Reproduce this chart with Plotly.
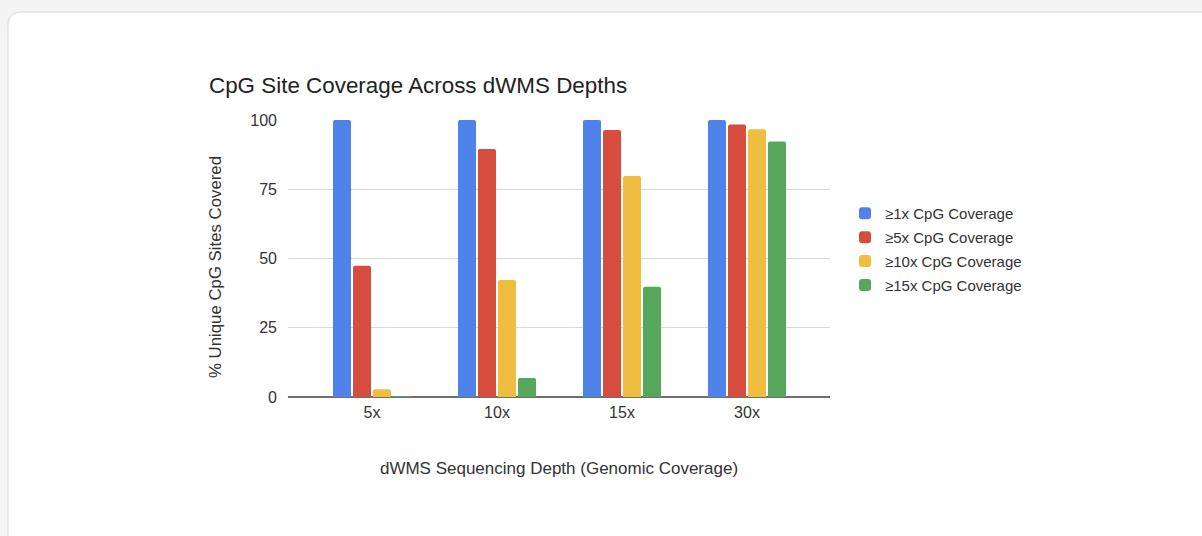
import plotly.graph_objects as go

categories = ["5x", "10x", "15x", "30x"]
series_names = ["≥1x CpG Coverage", "≥5x CpG Coverage", "≥10x CpG Coverage", "≥15x CpG Coverage"]
cov_1x = [100, 100, 100, 100]
cov_5x = [47.4, 89.5, 96.4, 98.4]
cov_10x = [2.8, 42.2, 79.8, 96.7]
cov_15x = [0.3, 6.9, 39.8, 92.2]
series_values = [cov_1x, cov_5x, cov_10x, cov_15x]
colors = ["#4f83e9", "#d74d3d", "#efbd3f", "#56a75b"]
y_ticks = [0, 25, 50, 75, 100]

W, H = 1202, 536
L, R, T, B = 288, 830, 120, 397
pw, ph = R - L, B - T

def px(x):
    return (x - L) / pw

def py(y):
    return (B - y) / ph

FONT = "Liberation Sans, Arial, sans-serif"

fig = go.Figure()
for i, (name, vals, col) in enumerate(zip(series_names, series_values, colors)):
    fig.add_trace(go.Bar(
        x=categories, y=vals, name=name, legendgroup=f"g{i}",
        marker=dict(color=col, line=dict(width=0), cornerradius=2),
        hoverinfo="x+y+name",
    ))

# card with rounded corners
x0, x1, y0, y1 = px(8), px(1215), py(12), py(560)
rx, ry = 14 / pw, 14 / ph
path = (f"M {x0+rx},{y0} L {x1-rx},{y0} Q {x1},{y0} {x1},{y0-ry} "
        f"L {x1},{y1+ry} Q {x1},{y1} {x1-rx},{y1} L {x0+rx},{y1} Q {x0},{y1} {x0},{y1+ry} "
        f"L {x0},{y0-ry} Q {x0},{y0} {x0+rx},{y0} Z")

fig.update_layout(
    width=W, height=H,
    margin=dict(l=L, r=W - R, t=T, b=H - B, pad=0),
    paper_bgcolor="#f4f4f4",
    plot_bgcolor="white",
    barmode="group",
    bargap=0.36,
    bargroupgap=0.1,
    font=dict(family=FONT, size=16, color="#333333"),
    title=dict(text="CpG Site Coverage Across dWMS Depths",
               x=209 / W, xref="container", xanchor="left",
               y=1 - 85 / H, yref="container", yanchor="middle",
               font=dict(size=22.4, color="#222222")),
    shapes=[dict(type="path", path=path, xref="paper", yref="paper",
                 fillcolor="white", line=dict(color="#e3e3e3", width=1.5), layer="below")],
    annotations=[dict(text="% Unique CpG Sites Covered", textangle=-90,
                      xref="paper", yref="paper", x=px(215), y=py(267),
                      xanchor="center", yanchor="middle", showarrow=False,
                      font=dict(size=16.8, color="#333333"))],
    legend=dict(x=px(845), y=py(197), xanchor="left", yanchor="top",
                font=dict(size=15, color="#333333"), bgcolor="rgba(0,0,0,0)",
                tracegroupgap=1.4, itemwidth=30),
    xaxis=dict(
        range=[-0.672, 3.664],
        showgrid=False, zeroline=False,
        showline=False, ticks="",
        ticklabelstandoff=4,
        tickfont=dict(size=16, color="#333333"),
        title=dict(text="dWMS Sequencing Depth (Genomic Coverage)", standoff=42,
                   font=dict(size=17, color="#333333")),
    ),
    yaxis=dict(
        range=[0, 100],
        tickvals=y_ticks,
        showgrid=True, gridcolor="#d9d9d9", gridwidth=1,
        zeroline=True, zerolinecolor="#6f6f6f", zerolinewidth=1.5,
        showline=False, ticks="",
        ticklabelstandoff=10,
        tickfont=dict(size=16, color="#333333"),
    ),
)

fig.write_html("out.html", config={"displayModeBar": False},
               post_script="document.body.style.margin='0';document.body.style.background='#f4f4f4';")
